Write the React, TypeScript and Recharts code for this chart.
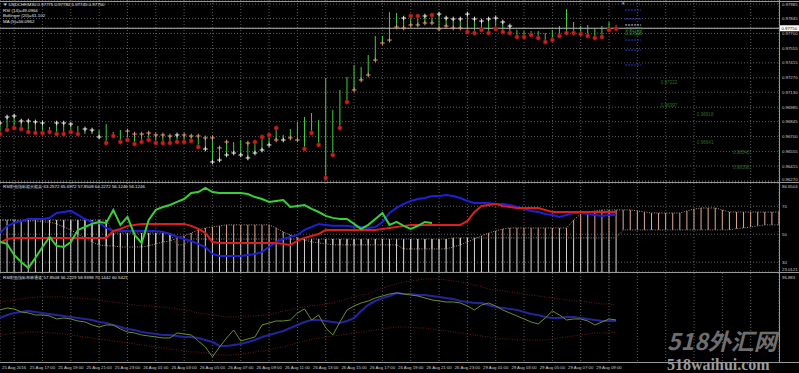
import React from 'react';
import {
  ComposedChart,
  Bar,
  Line,
  Scatter,
  XAxis,
  YAxis,
  CartesianGrid,
  ReferenceLine,
} from 'recharts';

// USDCHF M30 bars (index 0 = 25 Aug 14:00)
const high = [
  0.96832, 0.9689, 0.969, 0.96851, 0.96851, 0.96842, 0.96832, 0.96793, 0.96832, 0.96832,
  0.96822, 0.96803, 0.96774, 0.96764, 0.96764, 0.96822, 0.96745, 0.96764, 0.96754, 0.96725,
  0.96725, 0.96735, 0.96716, 0.96716, 0.96706, 0.96716, 0.96716, 0.96706, 0.96706, 0.96687,
  0.96687, 0.9659, 0.96648, 0.96648, 0.96667, 0.96638, 0.96648, 0.96696, 0.96716, 0.96783,
  0.96716, 0.96774, 0.96842, 0.9689, 0.96929, 0.96861, 0.97268, 0.96958, 0.97152, 0.97278,
  0.97394, 0.97375, 0.97491, 0.97675, 0.97675, 0.97907, 0.97898, 0.97849, 0.97869, 0.97869,
  0.97869, 0.97878, 0.97888, 0.97849, 0.9784, 0.9784, 0.97888, 0.9784, 0.9782, 0.9784,
  0.97849, 0.97811, 0.97772, 0.97733, 0.97723, 0.97723, 0.97723, 0.97704, 0.97733, 0.97772,
  0.97936, 0.97811, 0.97772, 0.97782, 0.97743, 0.97772, 0.97811, 0.9778,
];
const low = [
  0.96725, 0.96764, 0.96783, 0.96774, 0.96745, 0.96735, 0.96735, 0.96745, 0.96725, 0.96725,
  0.96745, 0.96725, 0.96725, 0.96725, 0.96696, 0.96638, 0.96706, 0.96648, 0.96667, 0.96628,
  0.96648, 0.96667, 0.96638, 0.96638, 0.96638, 0.96648, 0.96648, 0.96658, 0.96599, 0.9658,
  0.96454, 0.96473, 0.96522, 0.96541, 0.96522, 0.96493, 0.96541, 0.9657, 0.96619, 0.96667,
  0.96667, 0.96687, 0.96667, 0.9658, 0.96735, 0.96619, 0.96299, 0.96522, 0.96783, 0.97035,
  0.97152, 0.97249, 0.97297, 0.97442, 0.97607, 0.97636, 0.97762, 0.97752, 0.97782, 0.97782,
  0.97801, 0.97801, 0.97743, 0.97772, 0.97752, 0.97752, 0.97714, 0.97704, 0.97733, 0.97704,
  0.97743, 0.97714, 0.97704, 0.97665, 0.97665, 0.97685, 0.97656, 0.97617, 0.97636, 0.97675,
  0.97704, 0.97704, 0.97694, 0.97675, 0.97656, 0.97665, 0.97733, 0.97745,
];
// marker kinds at high / low: W white cross, O orange cross, R red dot, . none
const topKind = 'WWWWWWW.WWW.WW....OOOOOOOWOOOOOOO..ORRRR.................WRRWRWWWWWWWWWWW...............';
const botKind = 'RRRRRRRRRRRR..WRRRRRRRRRRRRRRWWWWWWWWWWOWOORRRRRRROOOOOOOOOOOOOOOORRRRRRRRRRRRRRRRRRRRRR';

const lastPrice = 0.9775;
const priceTicks = [
  0.97985, 0.97845, 0.9775, 0.977, 0.97555, 0.97415, 0.9727, 0.9713, 0.96985, 0.96845,
  0.967, 0.96555, 0.96415, 0.9627,
];
const pivotLevels = [0.97927, 0.9784, 0.97636, 0.97539, 0.97394];
const pivotLight = [0.97782];
const projNear = [0.97735, 0.97698];
const projPrices = [0.97222, 0.96997, 0.96918, 0.96641, 0.96543, 0.96398];
const projSlots = [93.3, 93.3, 98.4, 98.4, 103.5, 103.5];

// RSI pane
const rsiGreen = [
  44.5, 43.1, 35.2, 30.2, 25.9, 33.1, 40.9, 48.1, 41.7, 40.9,
  44.5, 53.1, 55.2, 57.4, 58.8, 58.1, 67.4, 56.7, 62.4, 49.5,
  43.8, 60.2, 67.4, 69.5, 70.9, 73.1, 75.2, 79.5, 80.2, 83.1,
  80.2, 79.5, 79.5, 79.5, 79.5, 78.8, 76.6, 75.2, 73.1, 73.8,
  74.5, 69.5, 70.2, 70.9, 68.1, 65.9, 63.1, 61.7, 60.9, 60.9,
  57.4, 53.8, 56.7, 60.9, 65.2, 56.7, 58.8, 56.0, 53.8, 56.0,
  58.8, 58.1,
];
const rsiBlue = [
  50.9, 55.9, 58.1, 59.5, 60.9, 60.9, 60.9, 61.7, 65.2, 65.9,
  66.7, 63.8, 60.9, 58.8, 58.1, 54.5, 52.4, 52.4, 52.4, 52.4,
  52.4, 52.4, 52.4, 51.7, 50.2, 48.1, 46.6, 45.2, 43.1, 40.9,
  35.9, 34.5, 34.5, 34.5, 34.5, 35.2, 35.9, 37.4, 40.9, 44.5,
  46.6, 48.1, 49.5, 53.1, 55.2, 57.4, 56.7, 56.0, 56.0, 56.0,
  55.2, 55.2, 54.5, 55.2, 58.8, 65.2, 68.8, 71.7, 73.8, 75.2,
  75.9, 77.4, 77.4, 78.1, 77.4, 75.9, 73.8, 72.4, 72.4, 72.4,
  71.7, 71.7, 70.9, 69.5, 68.1, 66.7, 65.9, 64.5, 63.8, 62.4,
  63.8, 65.2, 65.2, 64.5, 63.8, 63.1, 63.8, 63.8,
];
const rsiRed = [
  43.8, 46.6, 47.4, 47.4, 47.4, 47.4, 47.4, 47.4, 47.4, 47.4,
  47.4, 47.4, 47.4, 47.4, 47.4, 47.4, 52.4, 53.8, 56.0, 56.7,
  57.4, 57.4, 57.4, 57.4, 57.4, 57.4, 57.4, 56.0, 53.8, 51.0,
  44.5, 43.8, 43.8, 43.8, 43.8, 43.8, 43.8, 43.8, 43.8, 43.8,
  43.1, 42.4, 45.2, 47.4, 48.8, 50.2, 53.1, 53.1, 53.1, 53.1,
  53.1, 53.1, 53.1, 53.1, 53.8, 54.5, 55.2, 56.0, 56.7, 56.7,
  56.7, 56.7, 56.7, 56.7, 56.7, 56.7, 59.5, 65.9, 70.2, 70.9,
  71.7, 70.2, 69.5, 68.8, 68.8, 68.8, 68.8, 67.4, 65.9, 65.9,
  65.9, 65.9, 65.9, 65.9, 65.9, 65.9, 65.9, 65.9,
];
const spanA = [
  60.2, 60.2, 60.2, 59.5, 59.5, 59.5, 58.8, 58.8, 57.4, 55.2,
  53.1, 50.2, 47.4, 44.5, 42.4, 41.7, 41.7, 40.9, 40.9, 40.9,
  40.9, 41.7, 43.1, 44.5, 45.2, 47.4, 48.8, 50.9, 53.1, 54.5,
  55.2, 56.0, 56.7, 56.7, 56.7, 56.7, 56.7, 56.7, 56.7, 54.5,
  51.7, 49.5, 47.4, 45.9, 44.5, 43.8, 43.1, 42.4, 42.4, 42.4,
  42.4, 42.4, 42.4, 42.4, 42.4, 42.4, 42.4, 39.5, 39.5, 39.5,
  39.5, 39.5, 39.5, 39.5, 40.9, 42.4, 44.5, 46.6, 48.8, 50.9,
  52.4, 53.8, 54.5, 54.5, 54.5, 54.5, 54.5, 54.5, 54.5, 54.5,
  54.5, 60.2, 64.5, 65.9, 66.7, 67.4, 67.4, 67.4, 67.4, 67.4,
  66.7, 65.9, 65.2, 65.2, 65.2, 65.2, 65.2, 66.7, 68.1, 68.8,
  68.8, 68.8, 67.4, 65.9, 65.9, 65.9, 65.9, 65.9, 65.9, 65.9,
  65.9,
];
const spanB = [
  60.2, 60.2, 60.2, 60.2, 60.2, 60.2, 60.2, 60.2, 60.2, 60.2,
  60.2, 60.2, 60.2, 60.2, 60.2, 60.2, 50.9, 50.9, 50.9, 50.9,
  50.9, 50.9, 50.9, 50.9, 50.9, 42.4, 42.4, 46.6, 46.6, 46.6,
  46.6, 46.6, 46.6, 46.6, 46.6, 46.6, 46.6, 46.6, 46.6, 46.6,
  46.6, 46.6, 46.6, 46.6, 46.6, 46.6, 46.6, 46.6, 46.6, 46.6,
  46.6, 46.6, 46.6, 46.6, 46.6, 46.6, 46.6, 46.6, 46.6, 46.6,
  46.6, 46.6, 46.6, 46.6, 47.4, 47.4, 47.4, 47.4, 47.4, 47.4,
  47.4, 47.4, 47.4, 47.4, 47.4, 47.4, 47.4, 47.4, 47.4, 47.4,
  47.4, 47.4, 47.4, 47.4, 47.4, 47.4, 47.4, 47.4, 53.1, 53.1,
  53.1, 53.1, 53.1, 53.1, 53.1, 53.1, 53.1, 53.1, 53.1, 53.1,
  53.1, 53.1, 53.1, 53.1, 54.0, 54.5, 55.2, 56.0, 56.7, 56.7,
  56.7,
];

// band pane
const bandMid = [
  51.9, 54.9, 56.9, 57.9, 58.9, 57.9, 56.9, 55.9, 54.9, 53.9,
  52.9, 51.9, 50.9, 49.9, 47.9, 46.9, 44.9, 42.9, 40.9, 39.9,
  37.9, 36.9, 35.9, 34.9, 34.9, 33.9, 32.9, 32.9, 31.9, 29.9,
  27.9, 23.9, 23.9, 24.9, 25.9, 27.9, 29.9, 32.9, 34.9, 36.9,
  38.9, 41.9, 44.9, 47.9, 49.9, 49.9, 48.9, 47.9, 46.9, 48.9,
  51.9, 58.9, 64.9, 68.9, 71.9, 73.9, 76.9, 75.9, 75.9, 74.9,
  74.9, 73.9, 72.9, 71.9, 70.9, 68.9, 67.9, 66.9, 66.9, 64.9,
  62.9, 61.9, 60.9, 59.9, 57.9, 55.9, 54.9, 52.9, 51.9, 51.9,
  52.9, 52.9, 51.9, 50.9, 49.9, 48.9, 48.9, 48.9,
];
const bandFast = [
  59.9, 61.9, 60.9, 57.9, 56.9, 54.9, 54.9, 53.9, 50.9, 51.9,
  50.9, 48.9, 47.9, 44.9, 42.9, 44.9, 44.9, 40.9, 37.9, 36.9,
  34.9, 33.9, 32.9, 31.9, 31.9, 36.9, 35.9, 34.9, 28.9, 22.9,
  12.9, 22.9, 31.9, 39.9, 28.9, 30.9, 32.9, 44.9, 46.9, 48.9,
  48.9, 49.9, 56.9, 60.9, 49.9, 54.9, 41.9, 34.9, 47.9, 59.9,
  63.9, 66.9, 68.9, 71.9, 73.9, 75.9, 76.9, 75.9, 74.9, 73.9,
  71.9, 69.9, 68.9, 67.9, 67.9, 66.9, 63.9, 59.9, 64.9, 66.9,
  63.9, 59.9, 56.9, 53.9, 50.9, 47.9, 45.9, 51.9, 58.9, 54.9,
  49.9, 50.9, 50.9, 48.9, 44.9, 47.9, 50.9, 49.9,
];
const bandUpper = [
  67.9, 68.9, 69.9, 70.9, 71.9, 72.9, 72.9, 72.9, 72.9, 72.9,
  71.9, 71.9, 70.9, 70.9, 69.9, 68.9, 67.9, 66.9, 65.9, 64.9,
  63.9, 63.9, 62.9, 62.9, 61.9, 60.9, 59.9, 58.9, 56.9, 55.9,
  54.9, 53.9, 52.9, 52.9, 52.9, 53.9, 53.9, 54.9, 54.9, 56.9,
  58.9, 59.9, 61.9, 62.9, 63.9, 64.9, 65.9, 66.9, 68.9, 70.9,
  72.9, 74.9, 75.9, 78.9, 81.9, 83.9, 85.9, 87.9, 88.9, 89.9,
  90.9, 90.9, 90.9, 89.9, 88.9, 87.9, 86.9, 84.9, 82.9, 80.9,
  79.9, 78.9, 77.9, 76.9, 75.9, 74.9, 73.9, 72.9, 71.9, 70.9,
  69.9, 68.9, 68.9, 67.9, 66.9, 65.9, 65.9, 64.9,
];
const bandLower = [
  34.9, 35.9, 36.9, 36.9, 37.9, 37.9, 37.9, 36.9, 36.9, 35.9,
  34.9, 33.9, 32.9, 31.9, 30.9, 29.9, 28.9, 27.9, 26.9, 25.9,
  24.9, 23.9, 22.9, 21.9, 20.9, 19.9, 18.9, 17.9, 17.9, 16.9,
  15.9, 14.9, 14.9, 14.9, 15.9, 16.9, 17.9, 18.9, 19.9, 21.9,
  22.9, 24.9, 26.9, 28.9, 30.9, 31.9, 32.9, 33.9, 34.9, 35.9,
  36.9, 37.9, 38.9, 39.9, 40.9, 41.9, 42.9, 42.9, 42.9, 41.9,
  41.9, 40.9, 39.9, 38.9, 37.9, 36.9, 35.9, 34.9, 33.9, 32.9,
  31.9, 30.9, 30.9, 29.9, 29.9, 29.9, 29.9, 29.9, 30.9, 31.9,
  32.9, 33.9, 34.9, 35.9, 36.9, 36.9, 36.9, 37.9,
];

const gridTicks = [
  2, 6, 10, 14, 18, 22, 26, 30, 34, 38, 42, 46, 50, 54, 58, 62, 66, 70, 74, 78, 82, 86,
  90, 94, 98, 102, 106,
];
const dateLabels = [
  '25 Aug 2016', '25 Aug 17:00', '25 Aug 19:00', '25 Aug 21:00', '25 Aug 23:00',
  '26 Aug 01:00', '26 Aug 03:00', '26 Aug 05:00', '26 Aug 07:00', '26 Aug 09:00',
  '26 Aug 11:00', '26 Aug 13:00', '26 Aug 15:00', '26 Aug 17:00', '26 Aug 19:00',
  '26 Aug 21:00', '26 Aug 23:00', '29 Aug 01:00', '29 Aug 03:00', '29 Aug 05:00',
  '29 Aug 07:00', '29 Aug 09:00',
];

const RSI_MIN = 23.0121;
const RSI_MAX = 86.6504;
const BAND_MIN = 7.88;
const BAND_MAX = 96.8832;

const priceRows = high.map((h, i) => ({ i, hl: [low[i], h] }));
const topMarks = high.map((h, i) => ({ i, p: h, k: topKind[i] })).filter(d => d.k !== '.');
const botMarks = low.map((l, i) => ({ i, p: l, k: botKind[i] })).filter(d => d.k !== '.');
const pivotRows = [
  ...pivotLevels.map(p => ({ i: 89.4, p, k: 'b' })),
  ...pivotLight.map(p => ({ i: 89.4, p, k: 'w' })),
];
const nearRows = projNear.map(p => ({ i: 88.3, p, k: 'n' }));
const projRows = projPrices.map((p, n) => ({ i: projSlots[n], p, k: 'd' }));

const rsiRows = spanA.map((a, i) => {
  const b = spanB[i];
  return {
    i,
    a,
    b,
    cloud: [Math.min(a, b), Math.max(a, b)],
    base: i < high.length ? [RSI_MIN, b] : null,
    green: rsiGreen[i] ?? null,
    blue: rsiBlue[i] ?? null,
    red: rsiRed[i] ?? null,
  };
});

const bandRows = bandMid.map((m, i) => ({
  i,
  mid: m,
  fast: bandFast[i],
  up: bandUpper[i],
  dn: bandLower[i],
}));

const FONT = '"Liberation Sans", Arial, sans-serif';
const GRID = '#5c5c5c';
const noMargin = { top: 0, right: 0, bottom: 0, left: 0 };

const HLBar = (props: any) => {
  const { x, y, width, height } = props;
  if (x == null || y == null) return <g />;
  const top = height < 0 ? y + height : y;
  return <rect x={x + width / 2 - 0.5} y={top} width={1} height={Math.max(Math.abs(height), 1)} fill="#3fcf3f" />;
};

const CloudBar = (props: any) => {
  const { x, y, width, height, payload } = props;
  if (x == null || y == null || !height) return <g />;
  const top = height < 0 ? y + height : y;
  const col = payload.a > payload.b ? '#e2ab94' : '#d6d6d6';
  return <rect x={x + width / 2 - 0.5} y={top} width={1} height={Math.abs(height)} fill={col} />;
};

const BaseBar = (props: any) => {
  const { x, y, width, height } = props;
  if (x == null || y == null || !height) return <g />;
  const top = height < 0 ? y + height : y;
  return <rect x={x + width / 2 - 0.5} y={top} width={1} height={Math.abs(height)} fill="#d4d4d4" />;
};

const Mark = (props: any) => {
  const { cx, cy, payload } = props;
  if (cx == null || cy == null) return <g />;
  if (payload.k === 'R') {
    return <circle cx={cx} cy={cy} r={2.2} fill="#c91f1f" stroke="#6e0c0c" strokeWidth={0.6} />;
  }
  const col = payload.k === 'W' ? '#eeeeee' : '#e39a72';
  return (
    <g stroke={col} strokeWidth={1}>
      <line x1={cx - 2.3} x2={cx + 2.3} y1={cy} y2={cy} />
      <line x1={cx} x2={cx} y1={cy - 2.3} y2={cy + 2.3} />
    </g>
  );
};

const Pivot = (props: any) => {
  const { cx, cy, payload } = props;
  if (cx == null || cy == null) return <g />;
  const col = payload.k === 'w' ? '#c8c8e8' : '#2a36d4';
  return <line x1={cx - 8} x2={cx + 8} y1={cy} y2={cy} stroke={col} strokeDasharray="2 1" />;
};

const ProjText = (props: any) => {
  const { cx, cy, payload } = props;
  if (cx == null || cy == null) return <g />;
  const col = payload.k === 'n' ? '#3f9a3f' : '#2c6e2c';
  return (
    <text x={cx} y={cy + 1.5} fontSize={4.6} fill={col} fontFamily={FONT}>
      {payload.p.toFixed(5)}
    </text>
  );
};

const PriceTick = (props: any) => {
  const { x, y, payload } = props;
  const v = payload.value;
  if (v === lastPrice) {
    return (
      <g>
        <rect x={x + 1} y={y - 3} width={19} height={6} fill="#ffffff" />
        <text x={x + 2.5} y={y + 1.6} fontSize={4.3} fill="#000" fontFamily={FONT}>
          {v.toFixed(5)}
        </text>
      </g>
    );
  }
  const dy = v === 0.9627 ? 0 : 1.6;
  return (
    <text x={x + 3} y={y + dy} fontSize={4.3} fill="#cfcfcf" fontFamily={FONT}>
      {v.toFixed(5)}
    </text>
  );
};

const RsiTick = (props: any) => {
  const { x, y, payload } = props;
  const v = payload.value;
  let dy = 1.6;
  let label = String(v);
  if (v === RSI_MAX) { dy = 4.5; label = v.toFixed(4); }
  if (v === RSI_MIN) { dy = -0.8; label = v.toFixed(4); }
  return (
    <text x={x + 3} y={y + dy} fontSize={4.3} fill="#cfcfcf" fontFamily={FONT}>
      {label}
    </text>
  );
};

const BandTick = (props: any) => {
  const { x, y, payload } = props;
  return (
    <text x={x + 3} y={y + 5.5} fontSize={4.3} fill="#cfcfcf" fontFamily={FONT}>
      {payload.value.toFixed(3)}
    </text>
  );
};

const DateTick = (props: any) => {
  const { x, y, payload } = props;
  const label = dateLabels[(payload.value - 2) / 4];
  if (!label) return <g />;
  return (
    <text x={x} y={y + 6.8} textAnchor="middle" fontSize={4.3} fill="#cfcfcf" fontFamily={FONT}>
      {label}
    </text>
  );
};

const hLine = (top: number, h = 1, col = '#9a9a9a') => (
  <div style={{ position: 'absolute', left: 0, top, width: 799, height: h, background: col }} />
);

export default function App() {
  return (
    <div
      style={{
        position: 'absolute',
        left: 0,
        top: 0,
        width: 799,
        height: 373,
        background: '#000',
        overflow: 'hidden',
        fontFamily: FONT,
      }}
    >
      <div style={{ position: 'absolute', left: 0, top: 0 }}>
        <ComposedChart width={799} height={182} data={priceRows} margin={noMargin}>
          <CartesianGrid stroke={GRID} strokeDasharray="1 2" />
          <XAxis dataKey="i" type="number" domain={[0, 110]} ticks={gridTicks} hide allowDataOverflow />
          <YAxis
            orientation="right"
            width={20}
            type="number"
            domain={[0.9626, 0.98024]}
            ticks={priceTicks}
            interval={0}
            tick={<PriceTick />}
            tickLine={false}
            axisLine={false}
            tickSize={0}
            tickMargin={0}
            allowDataOverflow
          />
          <ReferenceLine y={lastPrice} stroke="#b4b4b4" />
          <Bar dataKey="hl" barSize={1} shape={<HLBar />} isAnimationActive={false} />
          <Scatter data={topMarks} dataKey="p" shape={<Mark />} isAnimationActive={false} />
          <Scatter data={botMarks} dataKey="p" shape={<Mark />} isAnimationActive={false} />
          <Scatter data={pivotRows} dataKey="p" shape={<Pivot />} isAnimationActive={false} />
          <Scatter data={nearRows} dataKey="p" shape={<ProjText />} isAnimationActive={false} />
          <Scatter data={projRows} dataKey="p" shape={<ProjText />} isAnimationActive={false} />
        </ComposedChart>
      </div>

      <div style={{ position: 'absolute', left: 0, top: 183 }}>
        <ComposedChart width={799} height={89} data={rsiRows} margin={noMargin} barGap={-1}>
          <CartesianGrid stroke={GRID} strokeDasharray="1 2" />
          <XAxis dataKey="i" type="number" domain={[0, 110]} ticks={gridTicks} hide allowDataOverflow />
          <YAxis
            orientation="right"
            width={20}
            type="number"
            domain={[RSI_MIN, RSI_MAX]}
            ticks={[RSI_MAX, 70, 50, 30, RSI_MIN]}
            interval={0}
            tick={<RsiTick />}
            tickLine={false}
            axisLine={false}
            tickSize={0}
            tickMargin={0}
            allowDataOverflow
          />
          <Bar dataKey="base" barSize={1} shape={<BaseBar />} isAnimationActive={false} />
          <Bar dataKey="cloud" barSize={1} shape={<CloudBar />} isAnimationActive={false} />
          <Line dataKey="a" stroke="#b99585" strokeDasharray="1 1.5" dot={false} activeDot={false} isAnimationActive={false} />
          <Line dataKey="b" stroke="#8c8c8c" strokeDasharray="1 1.5" dot={false} activeDot={false} isAnimationActive={false} />
          <Line dataKey="blue" stroke="#2020d8" strokeWidth={2} dot={false} activeDot={false} isAnimationActive={false} />
          <Line dataKey="red" stroke="#dc1e1e" strokeWidth={2} dot={false} activeDot={false} isAnimationActive={false} />
          <Line dataKey="green" stroke="#38d038" strokeWidth={2} dot={false} activeDot={false} isAnimationActive={false} />
        </ComposedChart>
      </div>

      <div style={{ position: 'absolute', left: 0, top: 273 }}>
        <ComposedChart width={799} height={100} data={bandRows} margin={noMargin}>
          <CartesianGrid stroke={GRID} strokeDasharray="1 2" horizontal={false} />
          <XAxis
            dataKey="i"
            type="number"
            domain={[0, 110]}
            ticks={gridTicks}
            interval={0}
            height={11}
            tick={<DateTick />}
            tickLine={false}
            axisLine={false}
            tickSize={0}
            tickMargin={0}
            allowDataOverflow
          />
          <YAxis
            orientation="right"
            width={20}
            type="number"
            domain={[BAND_MIN, BAND_MAX]}
            ticks={[BAND_MAX]}
            interval={0}
            tick={<BandTick />}
            tickLine={false}
            axisLine={false}
            tickSize={0}
            tickMargin={0}
            allowDataOverflow
          />
          <Line dataKey="up" stroke="#6e1c1c" strokeDasharray="1 1.5" dot={false} activeDot={false} isAnimationActive={false} />
          <Line dataKey="dn" stroke="#6e1c1c" strokeDasharray="1 1.5" dot={false} activeDot={false} isAnimationActive={false} />
          <Line dataKey="mid" stroke="#24249c" strokeWidth={2.2} dot={false} activeDot={false} isAnimationActive={false} />
          <Line dataKey="fast" stroke="#6c8f2c" strokeWidth={1} dot={false} activeDot={false} isAnimationActive={false} />
        </ComposedChart>
      </div>

      {hLine(1)}
      {hLine(182)}
      {hLine(272)}
      {hLine(362)}
      <div style={{ position: 'absolute', left: 779, top: 0, width: 1, height: 362, background: '#9a9a9a' }} />

      <svg width={799} height={373} style={{ position: 'absolute', left: 0, top: 0, pointerEvents: 'none' }}>
        <g fontFamily={FONT} fontSize={4.4} fill="#e6e6e6">
          <text x={3} y={6}>▼ USDCHF,M30  0.97775 0.97780 0.97745 0.97750</text>
          <text x={3} y={11.5}>RSI (14)=49.0964</text>
          <text x={3} y={17}>Bollinger (20)=61.102</text>
          <text x={3} y={22.5}>MA (5)=56.0962</text>
          <text x={3} y={188}>RSI彩色指标超买超卖 63.2572 65.6972 57.8508 64.2272 56.1246 56.1246</text>
          <text x={3} y={278.5}>RSI彩色指标布林通道 57.8508 56.2229 58.9398 70.1442 60.5421</text>
          <text x={621} y={4.5} fill="#aaaaaa">▼</text>
        </g>
        <text
          x={667}
          y={350}
          fontSize={23}
          fontStyle="italic"
          fontWeight="bold"
          fill="#6e6e6e"
          fontFamily='"Noto Sans CJK SC", sans-serif'
        >
          518外汇网
        </text>
        <text x={667} y={370} fontSize={16} fontWeight="bold" fill="#9a9a9a" fontFamily='"Liberation Serif", serif'>
          518waihui.com
        </text>
      </svg>
    </div>
  );
}
